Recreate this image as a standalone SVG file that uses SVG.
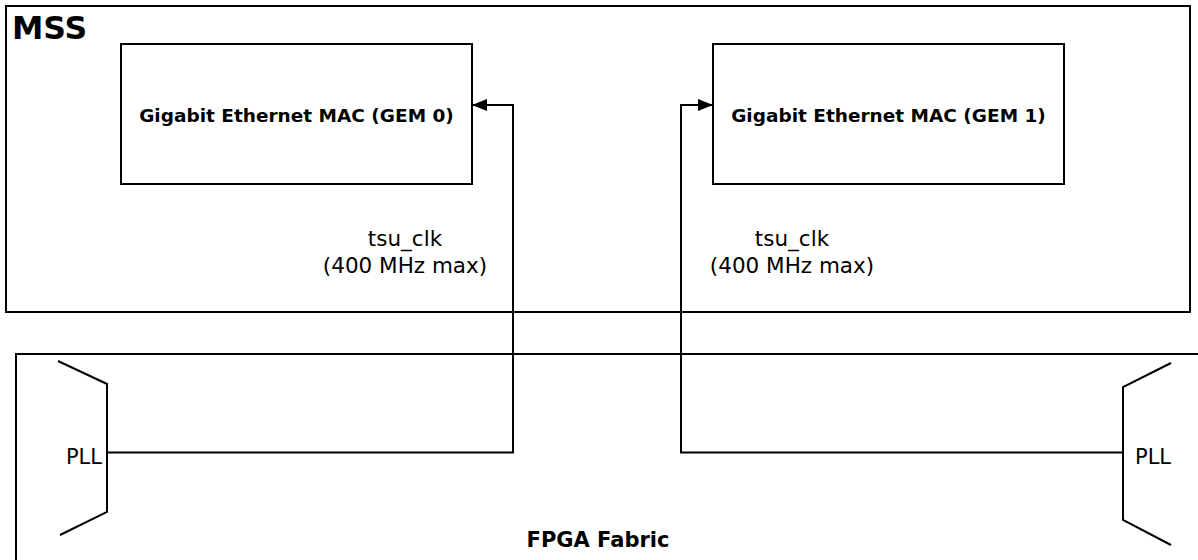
<svg xmlns="http://www.w3.org/2000/svg" width="1198" height="560" viewBox="0 0 1198 560">
<style>
.box{fill:none;stroke:#000;stroke-width:2}
.ln{fill:none;stroke:#000;stroke-width:2}
.t{font-family:"DejaVu Sans",Verdana,sans-serif;fill:#000}
.b{font-weight:bold}
</style>
<defs>
<marker id="ah" markerWidth="16" markerHeight="12" refX="15" refY="6" orient="auto" markerUnits="userSpaceOnUse">
<path d="M0,0 L15,6 L0,12 Z" fill="#000"/>
</marker>
</defs>
<rect width="1198" height="560" fill="#fff"/>
<g id="mss">
<rect class="box" x="6" y="6" width="1184" height="306"/>
<text class="t b" x="12" y="39" font-size="31.5">MSS</text>
</g>
<g id="fpga">
<rect class="box" x="16" y="354" width="1200" height="230"/>
<text class="t b" x="598" y="547" font-size="21" text-anchor="middle">FPGA Fabric</text>
</g>
<g id="gem0">
<rect class="box" x="121" y="44" width="351" height="140"/>
<text class="t b" x="296.5" y="122" font-size="18.5" text-anchor="middle">Gigabit Ethernet MAC (GEM 0)</text>
</g>
<g id="gem1">
<rect class="box" x="713" y="44" width="351" height="140"/>
<text class="t b" x="888.5" y="122" font-size="18.5" text-anchor="middle">Gigabit Ethernet MAC (GEM 1)</text>
</g>
<g id="pll0">
<polyline class="ln" points="58,361 107,384 107,512 60,535"/>
<text class="t" x="102" y="464" font-size="21" text-anchor="end">PLL</text>
</g>
<g id="pll1">
<polyline class="ln" points="1171,363 1123,387 1123,520 1171,545"/>
<text class="t" x="1135" y="464" font-size="21">PLL</text>
</g>
<g id="connectors">
<polyline class="ln" points="108,452.5 513,452.5 513,105 472,105" marker-end="url(#ah)"/>
<polyline class="ln" points="1122,452.5 681,452.5 681,105 713,105" marker-end="url(#ah)"/>
<text class="t" x="405" y="246" font-size="21.5" text-anchor="middle">tsu_clk</text>
<text class="t" x="405" y="273" font-size="21.5" text-anchor="middle">(400 MHz max)</text>
<text class="t" x="792" y="246" font-size="21.5" text-anchor="middle">tsu_clk</text>
<text class="t" x="792" y="273" font-size="21.5" text-anchor="middle">(400 MHz max)</text>
</g>
</svg>
